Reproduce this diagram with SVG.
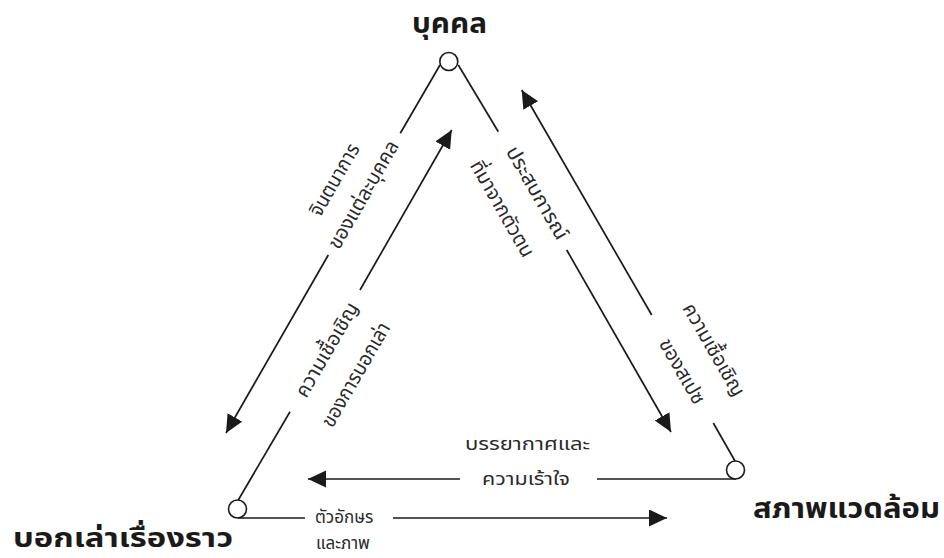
<svg xmlns="http://www.w3.org/2000/svg" width="944" height="558" viewBox="0 0 944 558">
<style>
.ln{stroke:#1a1a1a;stroke-width:1.7;fill:none}
.nd{stroke:#1a1a1a;stroke-width:1.6;fill:#fff}
.t{font-family:'Noto Sans Thai','Noto Sans','DejaVu Sans',sans-serif;font-size:18.5px;fill:#2a2a2a}
.s{font-family:'Noto Sans Thai','Noto Sans','DejaVu Sans',sans-serif;font-size:17px;fill:#2a2a2a}
.r{font-family:'Noto Sans Thai','Noto Sans','DejaVu Sans',sans-serif;font-size:20px;fill:#2a2a2a}
.b{font-family:'Noto Sans Thai','Noto Sans','DejaVu Sans',sans-serif;font-size:28px;font-weight:bold;fill:#1a1a1a}
</style>
<defs>
<marker id="ah" markerUnits="userSpaceOnUse" markerWidth="20" markerHeight="18" refX="18" refY="8.5" orient="auto">
<path d="M0,0 L18,8.5 L0,17 z" fill="#1a1a1a"/>
</marker>
</defs>
<rect width="944" height="558" fill="#fff"/>
<g id="connectors">
<line class="ln" x1="440" y1="65" x2="400.3" y2="133.3"/>
<line class="ln" x1="328.3" y1="255" x2="226" y2="433" marker-end="url(#ah)"/>
<line class="ln" x1="238.3" y1="500" x2="290" y2="411.7"/>
<line class="ln" x1="360" y1="290" x2="451.7" y2="130" marker-end="url(#ah)"/>
<line class="ln" x1="458.3" y1="65" x2="498.3" y2="131.7"/>
<line class="ln" x1="566.7" y1="250" x2="671" y2="432" marker-end="url(#ah)"/>
<line class="ln" x1="735" y1="461" x2="713.3" y2="423"/>
<line class="ln" x1="651.7" y1="315" x2="521.7" y2="90" marker-end="url(#ah)"/>
<line class="ln" x1="736" y1="479" x2="597" y2="479"/>
<line class="ln" x1="460" y1="479" x2="308" y2="479" marker-end="url(#ah)"/>
<line class="ln" x1="238" y1="518" x2="305" y2="518"/>
<line class="ln" x1="393" y1="518" x2="667" y2="518" marker-end="url(#ah)"/>
</g>
<g id="labels">
<text class="r" text-anchor="middle" transform="translate(335,180) rotate(-60)" dy="6" textLength="80" lengthAdjust="spacingAndGlyphs">จินตนาการ</text>
<text class="r" text-anchor="middle" transform="translate(364,195) rotate(-60)" dy="6" textLength="121" lengthAdjust="spacingAndGlyphs">ของแต่ละบุคคล</text>
<text class="r" text-anchor="middle" transform="translate(327.5,350) rotate(-60)" dy="6" textLength="106" lengthAdjust="spacingAndGlyphs">ความเชื้อเชิญ</text>
<text class="r" text-anchor="middle" transform="translate(356.5,375) rotate(-60)" dy="6" textLength="117" lengthAdjust="spacingAndGlyphs">ของการบอกเล่า</text>
<text class="r" text-anchor="middle" transform="translate(536.7,193.3) rotate(60)" dy="6" textLength="104" lengthAdjust="spacingAndGlyphs">ประสบการณ์</text>
<text class="r" text-anchor="middle" transform="translate(501.7,209) rotate(60)" dy="6" textLength="108" lengthAdjust="spacingAndGlyphs">ที่มาจากตัวตน</text>
<text class="r" text-anchor="middle" transform="translate(713.3,350) rotate(60)" dy="6" textLength="104" lengthAdjust="spacingAndGlyphs">ความเชื้อเชิญ</text>
<text class="r" text-anchor="middle" transform="translate(681.7,371.7) rotate(60)" dy="6" textLength="72" lengthAdjust="spacingAndGlyphs">ของสเปซ</text>
<text class="t" text-anchor="middle" x="527.5" y="450" textLength="125" lengthAdjust="spacingAndGlyphs">บรรยากาศและ</text>
<text class="t" text-anchor="middle" x="526" y="485" textLength="88" lengthAdjust="spacingAndGlyphs">ความเร้าใจ</text>
<text class="s" x="315" y="523">ตัวอักษร</text>
<text class="s" x="316" y="549">และภาพ</text>
</g>
<g id="node-person">
<circle class="nd" cx="448.8" cy="61.5" r="9"/>
<text class="b" text-anchor="middle" x="449.5" y="33" textLength="75" lengthAdjust="spacingAndGlyphs">บุคคล</text>
</g>
<g id="node-storytelling">
<circle class="nd" cx="237.5" cy="509" r="9"/>
<text class="b" x="13" y="547" style="font-size:26px" textLength="220" lengthAdjust="spacingAndGlyphs">บอกเล่าเรื่องราว</text>
</g>
<g id="node-environment">
<circle class="nd" cx="735.5" cy="470" r="9"/>
<text class="b" x="753" y="518" textLength="187" lengthAdjust="spacingAndGlyphs">สภาพแวดล้อม</text>
</g>
</svg>
